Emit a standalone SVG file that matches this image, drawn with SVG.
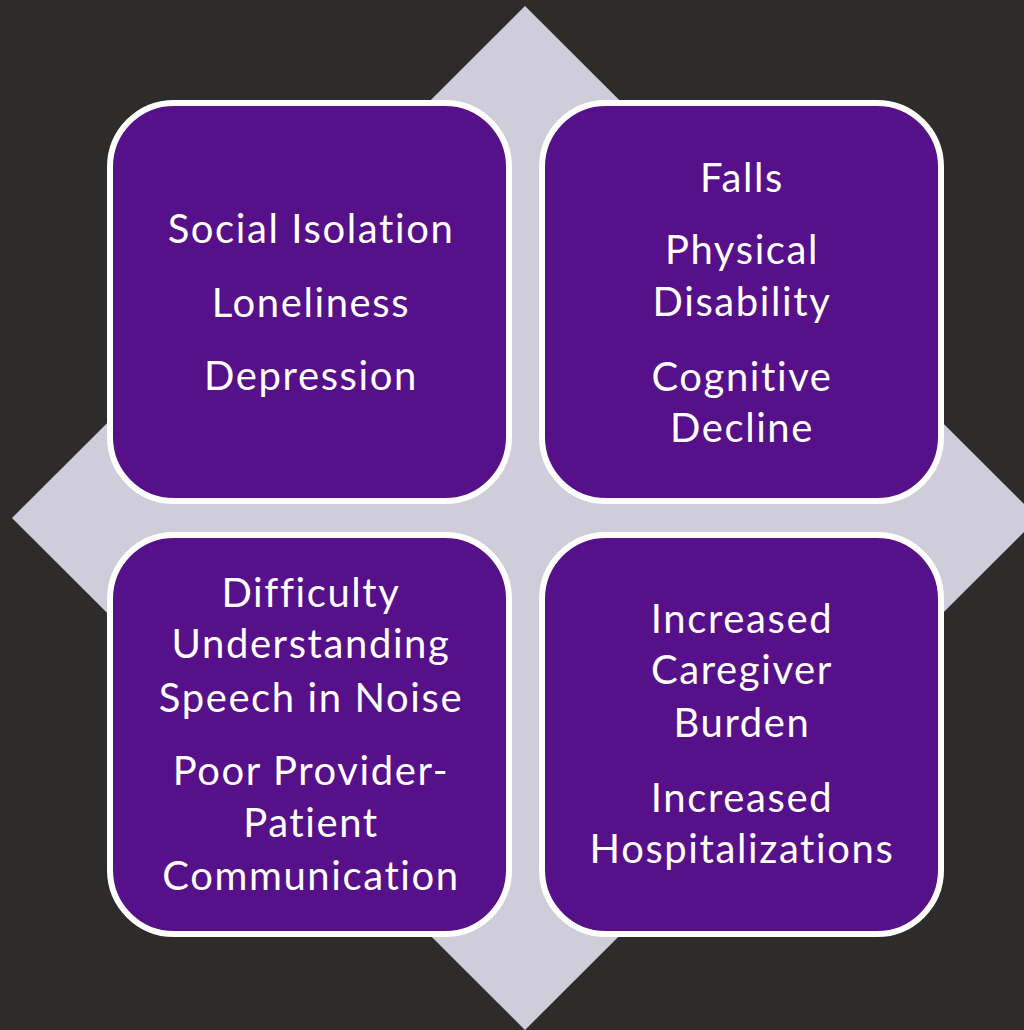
<svg xmlns="http://www.w3.org/2000/svg" width="1024" height="1030" viewBox="0 0 1024 1030">
  <style>
    .box { fill: #561089; stroke: #ffffff; stroke-width: 6; }
    .t { font-family: Lato, "Open Sans", "Liberation Sans", sans-serif; font-size: 40px; letter-spacing: 1.6px; font-variant-ligatures: none; fill: #ffffff; text-anchor: middle; }
  </style>
  <rect x="0" y="0" width="1024" height="1030" fill="#2d2c2b"/>
  <g id="diamond">
    <polygon points="525,6 1038,518 525,1030 12,518" fill="#d0cddb"/>
  </g>
  <g id="connectors"></g>
  <g id="node-top-left">
    <rect class="box" x="110" y="103" width="399" height="398" rx="64" ry="64"/>
    <text class="t" x="311" y="243">Social Isolation</text>
    <text class="t" x="311" y="317">Loneliness</text>
    <text class="t" x="311" y="390">Depression</text>
  </g>
  <g id="node-top-right">
    <rect class="box" x="542" y="103" width="399" height="398" rx="64" ry="64"/>
    <text class="t" x="742" y="192">Falls</text>
    <text class="t" x="742" y="264">Physical</text>
    <text class="t" x="742" y="316">Disability</text>
    <text class="t" x="742" y="391">Cognitive</text>
    <text class="t" x="742" y="442">Decline</text>
  </g>
  <g id="node-bottom-left">
    <rect class="box" x="110" y="535" width="399" height="399" rx="64" ry="64"/>
    <text class="t" x="311" y="607">Difficulty</text>
    <text class="t" x="311" y="658">Understanding</text>
    <text class="t" x="311" y="712">Speech in Noise</text>
    <text class="t" x="311" y="785">Poor Provider-</text>
    <text class="t" x="311" y="837">Patient</text>
    <text class="t" x="311" y="890">Communication</text>
  </g>
  <g id="node-bottom-right">
    <rect class="box" x="542" y="535" width="399" height="399" rx="64" ry="64"/>
    <text class="t" x="742" y="633">Increased</text>
    <text class="t" x="742" y="684">Caregiver</text>
    <text class="t" x="742" y="737">Burden</text>
    <text class="t" x="742" y="812">Increased</text>
    <text class="t" x="742" y="863">Hospitalizations</text>
  </g>
</svg>
